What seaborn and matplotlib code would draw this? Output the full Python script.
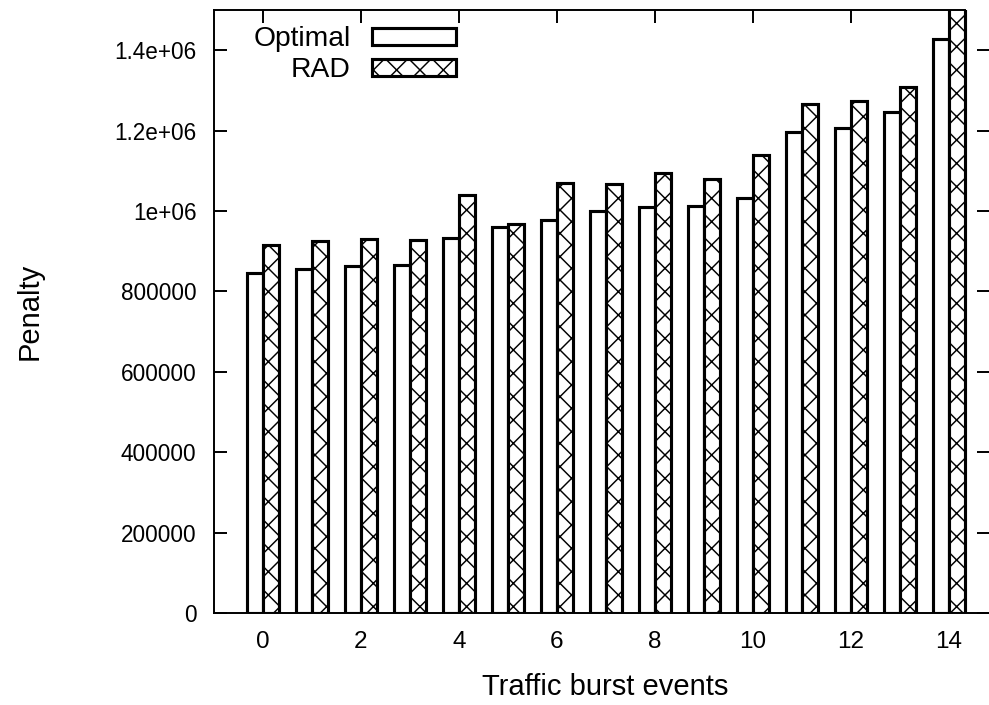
import matplotlib
matplotlib.use("Agg")
import matplotlib.pyplot as plt
from matplotlib.patches import Patch
import seaborn as sns
import pandas as pd

# ---- data ----
events = list(range(15))
optimal = [845000, 856000, 863000, 866000, 932000, 960000, 977000, 1000000,
           1010000, 1012000, 1032000, 1197000, 1206000, 1246000, 1427000]
rad = [915000, 925000, 930000, 929000, 1039000, 968000, 1069000, 1066000,
       1094000, 1080000, 1140000, 1265000, 1274000, 1308000, 1520000]
series_names = ["Optimal", "RAD"]
xtick_values = [0, 2, 4, 6, 8, 10, 12, 14]
ytick_values = [0, 200000, 400000, 600000, 800000, 1000000, 1200000, 1400000]
ytick_labels = ["0", "200000", "400000", "600000", "800000", "1e+06", "1.2e+06", "1.4e+06"]

df = pd.DataFrame({
    "event": events * 2,
    "penalty": optimal + rad,
    "series": [series_names[0]] * len(events) + [series_names[1]] * len(events),
})

sns.set_theme(style="ticks")
plt.rcParams["font.family"] = ["Liberation Sans", "DejaVu Sans"]
plt.rcParams["hatch.linewidth"] = 0.75
plt.rcParams["hatch.color"] = "black"

DPI = 140
fig = plt.figure(figsize=(989 / DPI, 705 / DPI), dpi=DPI)
ax = fig.add_axes([214 / 989, 1 - 613 / 705, 776 / 989, 603 / 705])

sns.barplot(data=df, x="event", y="penalty", hue="series", hue_order=series_names,
            palette=["white", "white"], width=0.66, gap=0, saturation=1,
            edgecolor="black", linewidth=1.6, ax=ax, legend=False)

for p in ax.containers[1]:
    p.set_hatch("xx")

ax.set_xlim(-1, 14.84)
ax.set_ylim(0, 1500000)
ax.set_xticks(xtick_values)
ax.set_xticklabels([str(v) for v in xtick_values])
ax.set_yticks(ytick_values)
ax.set_yticklabels(ytick_labels)

ax.tick_params(axis="both", which="both", direction="in", length=6.5, width=1.0,
               color="black", labelsize=11.6, labelcolor="black",
               top=True, right=True)
ax.tick_params(axis="y", pad=9)
ax.tick_params(axis="x", pad=9, labelsize=12.5)

for side in ["left", "bottom", "top"]:
    ax.spines[side].set_linewidth(1.0)
    ax.spines[side].set_color("black")
ax.spines["right"].set_visible(False)
ax.spines["top"].set_bounds(-1, 14.33)

ax.set_xlabel("Traffic burst events", fontsize=15, color="black")
ax.set_ylabel("Penalty", fontsize=15, color="black")
ax.xaxis.set_label_coords(0.504, -0.100)
ax.yaxis.set_label_coords(-0.219, 0.5)

handles = [Patch(facecolor="white", edgecolor="black", linewidth=1.6),
           Patch(facecolor="white", edgecolor="black", linewidth=1.6, hatch="xx")]
leg = ax.legend(handles, series_names, loc="upper left",
                bbox_to_anchor=(0.051, 0.973), fontsize=14.5, frameon=False,
                markerfirst=False, handlelength=2.97, handleheight=0.55,
                handletextpad=0.75, labelspacing=0.17, borderpad=0.0,
                borderaxespad=0.0, labelcolor="black")

fig.savefig("out.png", dpi=DPI)
